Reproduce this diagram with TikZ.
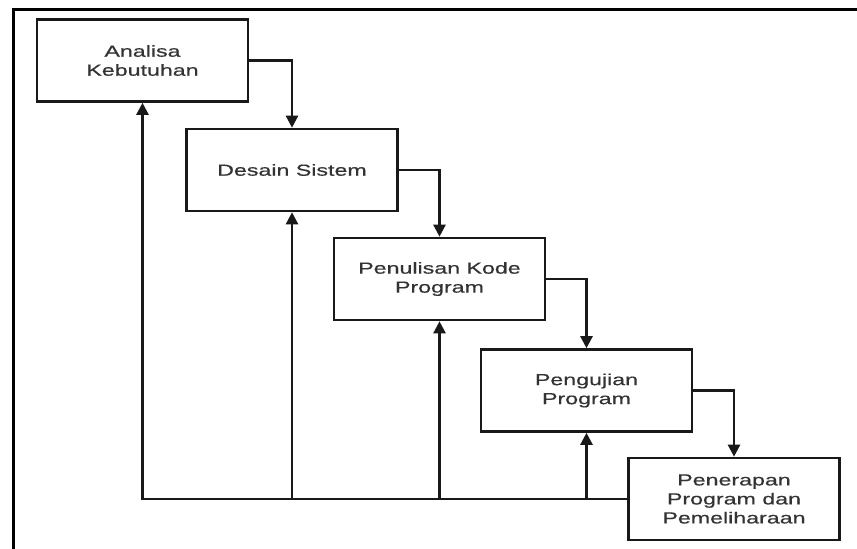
\documentclass[tikz,border=0pt]{standalone}
\usepackage{fontspec}
\setmainfont{Liberation Sans}[FakeStretch=1.45,FakeBold=0.5]
\usetikzlibrary{arrows.meta}
\begin{document}
\begin{tikzpicture}[x=1pt,y=-1pt,
  box/.style={draw=black!90, line width=2.6pt, minimum width=211pt, minimum height=82pt,
    align=center, inner sep=0pt, text=black!80, font=\fontsize{16}{19}\selectfont},
  arr/.style={draw=black!90, line width=2.4pt, -{Triangle[width=12pt,length=12pt]}},
  feed/.style={draw=black!90, line width=2.4pt}]
\useasboundingbox (0,0) rectangle (857,549);
\fill[white] (0,0) rectangle (857,549);
\draw[line width=3.5pt] (13.5,560) -- (13.5,9.5) -- (870,9.5);
\node[box] (a) at (142.5,60.5) {Analisa\\Kebutuhan};
\node[box] (b) at (292,170) {Desain Sistem};
\node[box] (c) at (439.5,279) {Penulisan Kode\\Program};
\node[box] (d) at (586.5,390.5) {Pengujian\\Program};
\node[box] (e) at (734,499) {Penerapan\\Program dan\\Pemeliharaan};
\draw[arr] (a.east) -| (b.north);
\draw[arr] (b.east) -| (c.north);
\draw[arr] (c.east) -| (d.north);
\draw[arr] (d.east) -| (e.north);
\draw[arr] (e.west) -| (a.south);
\draw[arr] (e.west -| b.south) -- (b.south);
\draw[arr] (e.west -| c.south) -- (c.south);
\draw[arr] (e.west -| d.south) -- (d.south);
\end{tikzpicture}
\end{document}
